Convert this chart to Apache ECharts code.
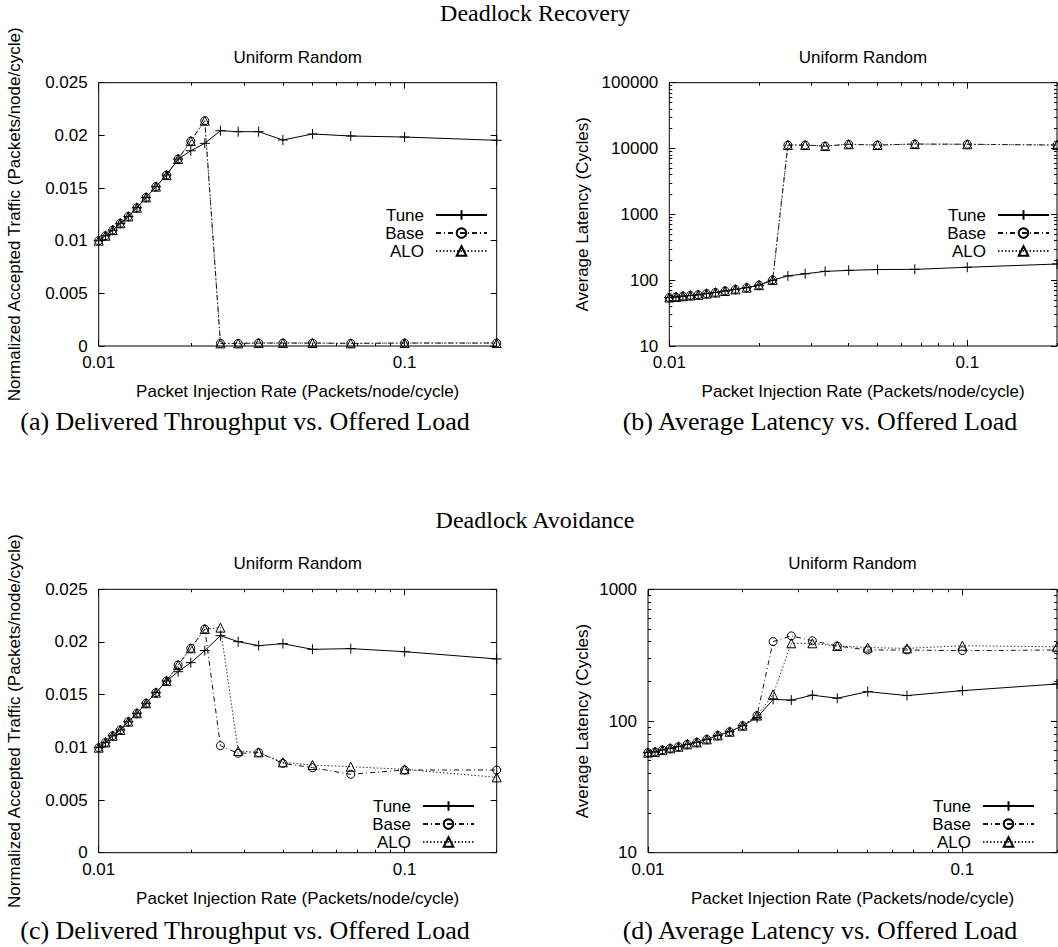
<!DOCTYPE html>
<html><head><meta charset="utf-8">
<script src="https://cdn.jsdelivr.net/npm/echarts@6/dist/echarts.min.js"></script>
<style>html,body{margin:0;padding:0;background:#fff}#c{width:1058px;height:947px}</style>
</head><body><div id="c"></div>
<script>
// ---------- data ----------
const injectionRate = [0.01, 0.010526, 0.011111, 0.011765, 0.0125, 0.013333, 0.014286, 0.015385, 0.016667, 0.018182, 0.02, 0.022222, 0.025, 0.028571, 0.033333, 0.04, 0.05, 0.066667, 0.1, 0.2];

// (a) Deadlock Recovery – accepted traffic
const recTputTune = [0.0100, 0.01047, 0.01100, 0.01165, 0.01230, 0.01313, 0.01411, 0.01513, 0.01623, 0.01775, 0.01854, 0.01924, 0.02044, 0.02035, 0.02035, 0.01956, 0.02013, 0.01994, 0.01984, 0.01953];
const recTputBase = [0.0100, 0.01047, 0.01100, 0.01165, 0.01230, 0.01313, 0.01411, 0.01513, 0.01623, 0.01775, 0.01946, 0.02139, 0.00025, 0.00025, 0.00028, 0.00028, 0.00028, 0.00025, 0.00028, 0.00028];
const recTputALO  = [0.0100, 0.01047, 0.01100, 0.01165, 0.01230, 0.01313, 0.01411, 0.01513, 0.01623, 0.01775, 0.01946, 0.02139, 0.00025, 0.00025, 0.00028, 0.00028, 0.00028, 0.00025, 0.00028, 0.00028];

// (b) Deadlock Recovery – latency
const recLatTune = [54.5, 55.5, 57, 58.5, 60, 62.5, 65, 68.5, 72.5, 77, 84, 100, 116, 125, 136, 141, 145, 146, 157, 176];
const recLatBase = [54.5, 55.5, 57, 58.5, 60, 62.5, 65, 68.5, 72.5, 77, 84, 101, 11300, 11300, 10900, 11600, 11300, 11700, 11600, 11300];
const recLatALO  = [54.5, 55.5, 57, 58.5, 60, 62.5, 65, 68.5, 72.5, 77, 84, 101, 11300, 11300, 10900, 11600, 11300, 11700, 11600, 11300];

// (c) Deadlock Avoidance – accepted traffic
const avdTputTune = [0.00997, 0.01047, 0.0111, 0.01165, 0.01244, 0.01323, 0.01418, 0.01519, 0.0163, 0.01718, 0.01804, 0.01918, 0.0206, 0.02003, 0.01965, 0.01984, 0.0193, 0.01937, 0.01908, 0.01839];
const avdTputBase = [0.00997, 0.01047, 0.0111, 0.01165, 0.01244, 0.01323, 0.01418, 0.01519, 0.0163, 0.01782, 0.0194, 0.02123, 0.01016, 0.00943, 0.0095, 0.00848, 0.00807, 0.00744, 0.00785, 0.00785];
const avdTputALO  = [0.00997, 0.01047, 0.0111, 0.01165, 0.01244, 0.01323, 0.01418, 0.01519, 0.0163, 0.01782, 0.0194, 0.02123, 0.02136, 0.00965, 0.00953, 0.00858, 0.00832, 0.00816, 0.00791, 0.00715];

// (d) Deadlock Avoidance – latency
const avdLatTune = [57.5, 58.2, 60.3, 62.0, 63.8, 66.5, 68.8, 72.5, 77.7, 82.9, 92.2, 106, 146, 144, 157, 149, 167, 156, 170, 191];
const avdLatBase = [57.5, 58.2, 60.3, 62.0, 63.8, 66.5, 68.8, 72.5, 77.7, 82.9, 92.2, 110, 401, 443, 407, 371, 346, 346, 342, 346];
const avdLatALO  = [57.5, 58.2, 60.3, 62.0, 63.8, 66.5, 68.8, 72.5, 77.7, 82.9, 92.2, 110, 159, 389, 389, 371, 361, 356, 373, 366];

// tick labels / ranges
const xRange = [0.01, 0.2];
const xMajorTicks = [0.01, 0.1];
const xMinorTicks = [0.02, 0.03, 0.04, 0.05, 0.06, 0.07, 0.08, 0.09, 0.2];
const tputRange = [0, 0.025];
const tputStep = 0.005;
const recLatRange = [10, 100000];
const avdLatRange = [10, 1000];

const seriesNames = ['Tune', 'Base', 'ALO'];
const mainTitles = ['Deadlock Recovery', 'Deadlock Avoidance'];
const subTitle = 'Uniform Random';
const captions = ['(a) Delivered Throughput vs. Offered Load', '(b) Average Latency vs. Offered Load',
                  '(c) Delivered Throughput vs. Offered Load', '(d) Average Latency vs. Offered Load'];
const xName = 'Packet Injection Rate (Packets/node/cycle)';
const tputName = 'Normalized Accepted Traffic (Packets/node/cycle)';
const latName = 'Average Latency (Cycles)';

// ---------- build ----------
const SANS = 'Liberation Sans, Arial, sans-serif';
const SERIF = 'Liberation Serif, Times New Roman, serif';
const L = Math.log10;
const BLACK = '#000';
const fmt = v => String(+(+v).toPrecision(6));

const grids = [
  {left: 98.7, top: 82.7, width: 398, height: 263.3},
  {left: 669.3, top: 82.7, width: 387.7, height: 263.3},
  {left: 98.7, top: 589.3, width: 398, height: 263.4},
  {left: 648, top: 589.3, width: 409, height: 263.4}
].map(g => Object.assign({show: true, borderColor: BLACK, borderWidth: 1, backgroundColor: 'transparent', containLabel: false, outerBoundsMode: 'none'}, g));

const labelStyle = {color: BLACK, fontSize: 17, fontFamily: SANS};
const nameStyle = {color: BLACK, fontSize: 17, fontFamily: SANS};

function minorLog(lo, hi) {
  const out = [];
  for (let d = lo; d < hi; d *= 10) for (let k = 2; k <= 9; k++) out.push(d * k);
  return out;
}

function logTickAxis(dim, g, pos, range, ticks, len, withLabels, name, nameGap) {
  const ax = {
    gridIndex: g, type: 'value', min: L(range[0]), max: L(range[1]), position: pos,
    axisLine: {show: false}, splitLine: {show: false}, silent: true,
    axisTick: {show: true, inside: true, length: len, customValues: ticks.map(L), lineStyle: {color: BLACK, width: 1}},
    axisLabel: withLabels ? Object.assign({show: true, customValues: ticks.map(L), margin: dim === 'x' ? 8 : 11,
        formatter: v => fmt(Math.pow(10, v))}, labelStyle) : {show: false}
  };
  if (name) {
    Object.assign(ax, {name, nameLocation: 'middle', nameGap, nameTextStyle: nameStyle, nameMoveOverlap: false});
  }
  return ax;
}

const xAxes = [], yAxes = [], series = [], legends = [];
const panels = [
  {kind: 'lin', data: [recTputTune, recTputBase, recTputALO], yRange: tputRange, legend: {right: 570, top: 206}},
  {kind: 'log', data: [recLatTune, recLatBase, recLatALO], yRange: recLatRange, legend: {right: 8, top: 206}, yGap: 78},
  {kind: 'lin', data: [avdTputTune, avdTputBase, avdTputALO], yRange: tputRange, legend: {right: 583, top: 797}},
  {kind: 'log', data: [avdLatTune, avdLatBase, avdLatALO], yRange: avdLatRange, legend: {right: 23, top: 797}, yGap: 57}
];

const styles = [
  {symbol: 'path://M5,0L5,10M0,5L10,5', symbolSize: 10, lineType: 'solid', color: '#000',
   item: {color: BLACK, borderColor: BLACK, borderWidth: 1}},
  {symbol: 'circle', symbolSize: 8, lineType: [5, 3, 1, 3], color: '#111',
   item: {color: 'rgba(255,255,255,0)', borderColor: BLACK, borderWidth: 1}},
  {symbol: 'triangle', symbolSize: 9, lineType: [1.5, 2], color: '#333',
   item: {color: 'rgba(255,255,255,0)', borderColor: BLACK, borderWidth: 1}}
];

panels.forEach((p, g) => {
  const xi = xAxes.length;
  xAxes.push({gridIndex: g, type: 'log', logBase: 10, min: xRange[0], max: xRange[1], show: false});
  xAxes.push(logTickAxis('x', g, 'bottom', xRange, xMajorTicks, 6, true, xName, 37));
  xAxes.push(logTickAxis('x', g, 'bottom', xRange, xMinorTicks, 3, false));
  xAxes.push(logTickAxis('x', g, 'top', xRange, xMajorTicks, 6, false));
  xAxes.push(logTickAxis('x', g, 'top', xRange, xMinorTicks, 3, false));

  const yi = yAxes.length;
  if (p.kind === 'lin') {
    const base = {gridIndex: g, type: 'value', min: p.yRange[0], max: p.yRange[1], interval: tputStep,
      axisLine: {show: false}, splitLine: {show: false},
      axisTick: {show: true, inside: true, length: 6, lineStyle: {color: BLACK}}};
    yAxes.push(Object.assign({}, base, {position: 'left',
      axisLabel: Object.assign({margin: 11, formatter: v => fmt(v)}, labelStyle),
      name: tputName, nameLocation: 'middle', nameGap: 76, nameTextStyle: nameStyle, nameMoveOverlap: false}));
    yAxes.push(Object.assign({}, base, {position: 'right', axisLabel: {show: false}}));
  } else {
    const major = [];
    for (let v = p.yRange[0]; v <= p.yRange[1]; v *= 10) major.push(v);
    const minor = minorLog(p.yRange[0], p.yRange[1]);
    yAxes.push({gridIndex: g, type: 'log', logBase: 10, min: p.yRange[0], max: p.yRange[1], show: false});
    yAxes.push(logTickAxis('y', g, 'left', p.yRange, major, 6, true, latName, p.yGap));
    yAxes.push(logTickAxis('y', g, 'left', p.yRange, minor, 3, false));
    yAxes.push(logTickAxis('y', g, 'right', p.yRange, major, 6, false));
    yAxes.push(logTickAxis('y', g, 'right', p.yRange, minor, 3, false));
  }

  p.data.forEach((arr, k) => {
    const s = styles[k];
    series.push({
      type: 'line', name: seriesNames[k], xAxisIndex: xi, yAxisIndex: yi,
      data: injectionRate.map((x, i) => [x, arr[i]]),
      symbol: s.symbol, symbolSize: s.symbolSize, showSymbol: true, showAllSymbol: true,
      lineStyle: {color: s.color, width: 1, type: s.lineType},
      itemStyle: s.item, emphasis: {disabled: true}, silent: true, animation: false, z: 3 + k
    });
  });

  legends.push({
    data: seriesNames, orient: 'vertical', right: p.legend.right, top: p.legend.top,
    itemWidth: 51, itemHeight: 12, itemGap: 0, align: 'right', selectedMode: false, padding: 0,
    textStyle: {fontFamily: SANS, fontSize: 17, color: BLACK, lineHeight: 18, padding: [0, 7, 0, 0]}
  });
});

function txt(x, y, text, font, size) {
  return {type: 'text', x, y, silent: true,
    style: {text, fill: BLACK, font: size + 'px ' + font, textAlign: 'center', textVerticalAlign: 'middle'}};
}
const graphics = [
  txt(535, 13, mainTitles[0], SERIF, 24),
  txt(535, 520, mainTitles[1], SERIF, 24),
  txt(297.7, 57, subTitle, SANS, 17),
  txt(863, 57, subTitle, SANS, 17),
  txt(297.7, 563, subTitle, SANS, 17),
  txt(852.5, 563, subTitle, SANS, 17),
  txt(245, 421, captions[0], SERIF, 26),
  txt(820, 421, captions[1], SERIF, 26),
  txt(245, 930, captions[2], SERIF, 26),
  txt(820, 930, captions[3], SERIF, 26)
];

const chart = echarts.init(document.getElementById('c'), null, {renderer: 'svg', width: 1058, height: 947});
chart.setOption({
  animation: false,
  backgroundColor: '#fff',
  textStyle: {fontFamily: SANS},
  grid: grids,
  xAxis: xAxes,
  yAxis: yAxes,
  legend: legends,
  series,
  graphic: graphics
});
</script></body></html>
